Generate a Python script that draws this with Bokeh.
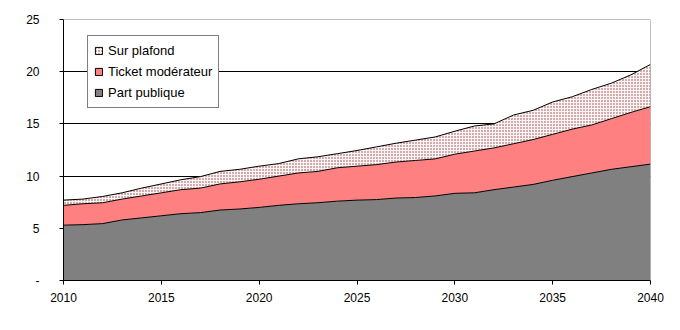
from bokeh.plotting import figure
from bokeh.models import ColumnDataSource, Range1d, Legend, LegendItem, Span, FixedTicker
from bokeh.embed import file_html
from bokeh.resources import INLINE
import numpy as np

years = list(range(2010, 2041))
part_publique = [5.3, 5.35, 5.45, 5.8, 6.0, 6.2, 6.4, 6.5, 6.75, 6.85, 7.0,
                 7.2, 7.35, 7.45, 7.6, 7.7, 7.75, 7.9, 7.95, 8.1, 8.35,
                 8.4, 8.7, 8.95, 9.2, 9.6, 9.95, 10.3, 10.65, 10.9, 11.15]
ticket_moderateur = [1.9, 2.0, 2.0, 2.0, 2.1, 2.2, 2.3, 2.35, 2.5, 2.6, 2.7,
                     2.8, 2.95, 3.0, 3.2, 3.25, 3.35, 3.45, 3.55, 3.55, 3.75,
                     4.0, 4.0, 4.15, 4.3, 4.4, 4.55, 4.6, 4.85, 5.2, 5.5]
sur_plafond = [0.5, 0.45, 0.6, 0.6, 0.75, 0.85, 0.95, 1.1, 1.2, 1.2, 1.25,
               1.2, 1.35, 1.4, 1.35, 1.5, 1.7, 1.8, 1.95, 2.1, 2.2,
               2.4, 2.3, 2.75, 2.8, 3.1, 3.1, 3.4, 3.4, 3.6, 4.05]
labels = ["Part publique", "Ticket modérateur", "Sur plafond"]
x_ticks = [2010, 2015, 2020, 2025, 2030, 2035, 2040]
y_ticks = [0, 5, 10, 15, 20, 25]

pp = np.array(part_publique)
tm = pp + np.array(ticket_moderateur)
sp = tm + np.array(sur_plafond)
src = ColumnDataSource(dict(x=years, zero=[0] * len(years), pp=pp, tm=tm, sp=sp))

FONT = "Liberation Sans"
HATCH = "#8a4040"

p = figure(width=680, height=330, output_backend="svg", toolbar_location=None,
           x_range=Range1d(2010, 2040), y_range=Range1d(0, 25),
           min_border_left=63, min_border_right=30, min_border_top=19, min_border_bottom=50)
p.outline_line_color = None
p.background_fill_color = "white"
p.border_fill_color = "white"

r_pp = p.varea(x="x", y1="zero", y2="pp", source=src, fill_color="#808080")
r_tm = p.varea(x="x", y1="pp", y2="tm", source=src, fill_color="#FF8080")
r_sp = p.varea(x="x", y1="tm", y2="sp", source=src, fill_color="#FFF4F4",
               hatch_pattern=".", hatch_color=HATCH, hatch_scale=3, hatch_weight=1)
for col in ["pp", "tm", "sp"]:
    p.line(x="x", y=col, source=src, line_color="black", line_width=1)

# legend proxies: quads lying outside the visible x range
lsrc = ColumnDataSource(dict(l=[1900], r=[1901], t=[1], b=[0]))
l_sp = p.quad(left="l", right="r", top="t", bottom="b", source=lsrc, fill_color="#FFF4F4",
              line_color="black", hatch_pattern=".", hatch_color=HATCH, hatch_scale=3)
l_tm = p.quad(left="l", right="r", top="t", bottom="b", source=lsrc, fill_color="#FF8080",
              line_color="black")
l_pp = p.quad(left="l", right="r", top="t", bottom="b", source=lsrc, fill_color="#808080",
              line_color="black")

p.add_layout(Span(location=25, dimension="width", line_color="#808080", line_width=1))
p.add_layout(Span(location=2040, dimension="height", line_color="#808080", line_width=1))

p.xgrid.visible = False
p.ygrid.ticker = FixedTicker(ticks=[10, 15, 20])
p.ygrid.grid_line_color = "black"
p.ygrid.grid_line_alpha = 1.0

p.xaxis.ticker = FixedTicker(ticks=x_ticks)
p.yaxis.ticker = FixedTicker(ticks=y_ticks)
p.yaxis.major_label_overrides = {0: "-"}
for ax in (p.xaxis[0], p.yaxis[0]):
    ax.axis_line_color = "black"
    ax.major_tick_line_color = "black"
    ax.major_tick_in = 0
    ax.major_tick_out = 4
    ax.minor_tick_line_color = None
    ax.major_label_text_font = FONT
    ax.major_label_text_font_size = "12px"
    ax.major_label_text_color = "black"
p.yaxis.major_label_standoff = 20
p.xaxis.major_label_standoff = 8

legend = Legend(items=[LegendItem(label=labels[2], renderers=[l_sp]),
                       LegendItem(label=labels[1], renderers=[l_tm]),
                       LegendItem(label=labels[0], renderers=[l_pp])],
                location=(24, 172), orientation="vertical")
legend.border_line_color = "black"
legend.border_line_width = 1
legend.background_fill_color = "white"
legend.background_fill_alpha = 1.0
legend.label_text_font = FONT
legend.label_text_font_size = "13px"
legend.label_text_color = "black"
legend.glyph_width = 9
legend.glyph_height = 9
legend.label_standoff = 5
legend.padding = 6
legend.margin = 0
legend.spacing = 4
legend.label_height = 17
p.add_layout(legend)

open("out.html", "w").write(file_html(p, INLINE))
